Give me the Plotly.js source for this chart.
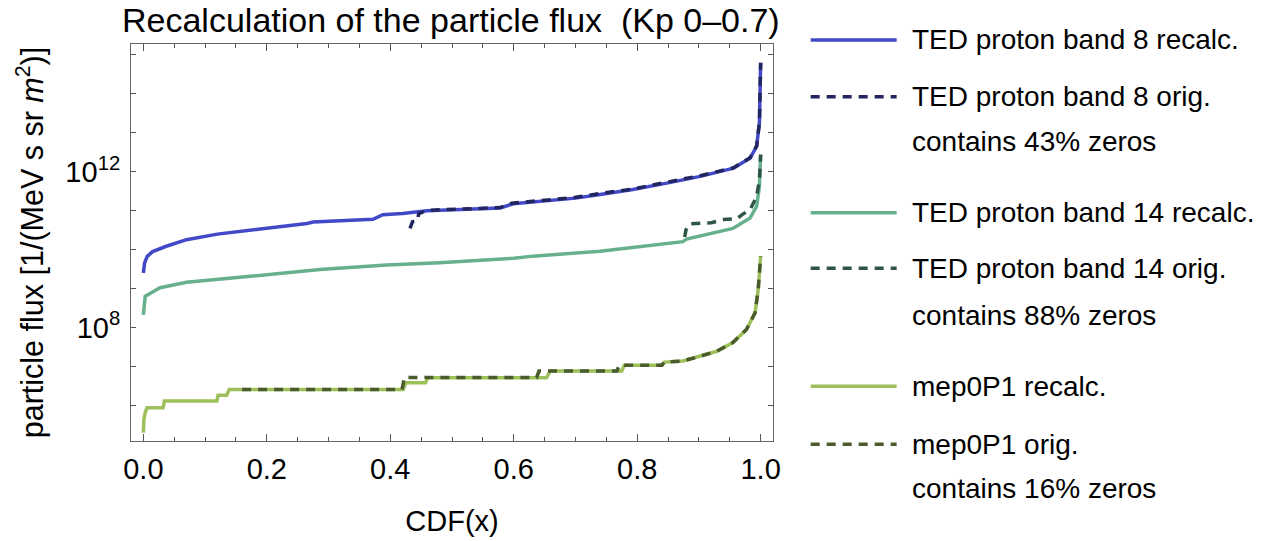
<!DOCTYPE html>
<html>
<head>
<meta charset="utf-8">
<script src="https://cdn.plot.ly/plotly-3.0.1.min.js"></script>
<style>html,body{margin:0;padding:0;background:#fff;}#chart{width:1264px;height:541px;}</style>
</head>
<body>
<div id="chart"></div>
<script>
// ---- data (x = CDF, y = particle flux) ----
const band8RecalcX = [0.000,0.002,0.006,0.015,0.036,0.070,0.120,0.178,0.230,0.265,0.275,0.372,0.388,0.420,0.459,0.578,0.599,0.648,0.700,0.740,0.793,0.848,0.902,0.956,0.983,0.9935,0.998,1.000];
const band8RecalcY = [2.5e9,4.5e9,6.6e9,8.9e9,1.2e10,1.8e10,2.5e10,3.2e10,4.0e10,4.7e10,5.1e10,6.0e10,7.9e10,8.5e10,1.0e11,1.17e11,1.5e11,1.74e11,2.1e11,2.6e11,3.5e11,5.1e11,7.6e11,1.23e12,2.24e12,4.5e12,1.8e13,6.3e14];

const band8OrigX = [0.432,0.436,0.444,0.446,0.459,0.578,0.597,0.648,0.700,0.740,0.793,0.848,0.902,0.956,0.983,0.9935,0.998,1.000];
const band8OrigY = [3.5e10,5.2e10,5.5e10,8.3e10,1.02e11,1.2e11,1.55e11,1.8e11,2.2e11,2.75e11,3.6e11,5.4e11,7.9e11,1.26e12,2.3e12,4.6e12,1.86e13,6.3e14];

const band14RecalcX = [0.000,0.003,0.027,0.070,0.178,0.286,0.394,0.480,0.600,0.631,0.740,0.874,0.880,0.955,0.983,0.9935,0.998,1.000];
const band14RecalcY = [2.1e8,6.3e8,1.05e9,1.45e9,2.1e9,3.1e9,4.0e9,4.6e9,6.0e9,6.8e9,9.1e9,1.6e10,1.86e10,3.5e10,6.5e10,1.3e11,4.2e11,2.75e12];

const band14OrigX = [0.877,0.879,0.885,0.920,0.940,0.962,0.970,0.983,0.9935,0.998,1.000];
const band14OrigY = [2.1e10,3.2e10,4.6e10,4.9e10,5.9e10,6.2e10,7.9e10,1.07e11,2.3e11,6.3e11,2.75e12];

const mepRecalcX = [0.000,0.001,0.003,0.006,0.032,0.034,0.119,0.121,0.135,0.139,0.421,0.425,0.457,0.461,0.653,0.659,0.775,0.779,0.840,0.844,0.874,0.902,0.929,0.955,0.977,0.991,0.996,1.000];
const mepRecalcY = [2.0e5,4.5e5,6.5e5,8.7e5,8.7e5,1.29e6,1.29e6,1.82e6,1.82e6,2.57e6,2.57e6,3.8e6,3.8e6,5.1e6,5.1e6,7.6e6,7.6e6,1.07e7,1.07e7,1.29e7,1.38e7,1.82e7,2.45e7,4.1e7,8.9e7,2.4e8,9.3e8,6.8e9];

const mepOrigX = [0.160,0.419,0.423,0.637,0.641,0.767,0.771,0.840,0.844,0.874,0.902,0.929,0.955,0.977,0.991,0.996,1.000];
const mepOrigY = [2.57e6,2.57e6,5.2e6,5.2e6,7.6e6,7.6e6,1.07e7,1.07e7,1.29e7,1.38e7,1.82e7,2.45e7,4.1e7,8.9e7,2.4e8,9.3e8,6.8e9];

const seriesNames = ["TED proton band 8 recalc.","TED proton band 8 orig.","TED proton band 14 recalc.","TED proton band 14 orig.","mep0P1 recalc.","mep0P1 orig."];
const zeroNotes = ["","contains 43% zeros","","contains 88% zeros","","contains 16% zeros"];
const seriesColors = ["#4249C8","#23265E","#67B08E","#2E5545","#9DC05A","#4A5B2C"];

const yTickVals = [1e8,1e12];
const yTickText = ["10<sup>8</sup>","10<sup>12</sup>"];
const yMinorTickVals = [1e6,1e7,1e9,1e10,1e11,1e13,1e14,1e15];
const xTickVals = [0,0.2,0.4,0.6,0.8,1.0];
const xTickText = ["0.0","0.2","0.4","0.6","0.8","1.0"];

// ---- layout geometry (pixels) ----
const W = 1264, H = 541;
const PL = 131, PR = 773.3, PT = 44, PB = 440.7;
const px2x = p => (p - PL) / (PR - PL);
const px2y = p => (PB - p) / (PB - PT);
const FONT = "Liberation Sans, Arial, Helvetica, sans-serif";

const dash = "9px,7px";
const traces = [
  {x: band8RecalcX, y: band8RecalcY, line:{color:seriesColors[0], width:3.5}},
  {x: band8OrigX, y: band8OrigY, line:{color:seriesColors[1], width:3.5, dash:dash}},
  {x: band14RecalcX, y: band14RecalcY, line:{color:seriesColors[2], width:3.5}},
  {x: band14OrigX, y: band14OrigY, line:{color:seriesColors[3], width:3.5, dash:dash}},
  {x: mepRecalcX, y: mepRecalcY, line:{color:seriesColors[4], width:3.5}},
  {x: mepOrigX, y: mepOrigY, line:{color:seriesColors[5], width:3.5, dash:dash}}
].map((t,i) => Object.assign({type:"scatter", mode:"lines", name:seriesNames[i], showlegend:false, hoverinfo:"skip"}, t));

// ---- hand-placed legend (keys + text) ----
const legendRows = [
  {y:40,   key:0, text:seriesNames[0]},
  {y:96.7, key:1, text:seriesNames[1]},
  {y:141.7,key:-1,text:zeroNotes[1]},
  {y:212.7,key:2, text:seriesNames[2]},
  {y:268,  key:3, text:seriesNames[3]},
  {y:315,  key:-1,text:zeroNotes[3]},
  {y:386,  key:4, text:seriesNames[4]},
  {y:444,  key:5, text:seriesNames[5]},
  {y:488,  key:-1,text:zeroNotes[5]}
];
const shapes = [], annotations = [];
legendRows.forEach(r => {
  if (r.key >= 0) {
    const dashed = r.key % 2 === 1;
    shapes.push({type:"line", xref:"paper", yref:"paper", x0:px2x(811), x1:px2x(897), y0:px2y(r.y), y1:px2y(r.y),
      line:{color:seriesColors[r.key], width:3.5, dash: dashed ? dash : "solid"}});
  }
  annotations.push({xref:"paper", yref:"paper", x:px2x(910), y:px2y(r.y), xanchor:"left", yanchor:"middle",
    text:r.text, showarrow:false, font:{family:FONT, size:28, color:"#000"}});
});

const AX_FONT = {family:FONT, size:29, color:"#000"};
const layout = {
  width: W, height: H,
  margin: {l:PL, r:W-PR, t:PT, b:H-PB, pad:0},
  paper_bgcolor:"#fff", plot_bgcolor:"#fff",
  font:{family:FONT, color:"#000"},
  title:{text:"Recalculation of the particle flux  (Kp 0\u20130.7)", font:{family:FONT, size:34, color:"#000"},
    x:px2x(451), xref:"paper", xanchor:"center", y:1-20/H, yref:"container", yanchor:"middle"},
  xaxis:{range:[-0.02,1.02], showgrid:false, zeroline:false, showline:true, linecolor:"#666", linewidth:1, mirror:"ticks",
    ticks:"inside", ticklen:7, tickcolor:"#555", tickvals:xTickVals, ticktext:xTickText,
    tickfont:AX_FONT, ticklabelstandoff:2,
    minor:{ticks:"inside", ticklen:4, tickcolor:"#555", dtick:0.05, tick0:0, showgrid:false},
    title:{text:"CDF(x)", font:AX_FONT, standoff:26}},
  yaxis:{type:"log", range:[5.085,15.28], showgrid:false, zeroline:false, showline:true, linecolor:"#666", linewidth:1, mirror:"ticks",
    ticks:"inside", ticklen:5, tickcolor:"#555", tickvals:yTickVals, ticktext:yTickText,
    tickfont:AX_FONT, ticklabelstandoff:4,
    minor:{ticks:"inside", ticklen:5, tickcolor:"#555", tickmode:"array", tickvals:yMinorTickVals, showgrid:false},
    title:{text:"particle flux [1/(MeV s sr <i>m</i><sup>2</sup>)]", font:{family:FONT, size:30.5, color:"#000"}, standoff:12}},
  shapes: shapes,
  annotations: annotations
};

Plotly.newPlot("chart", traces, layout, {staticPlot:true, displayModeBar:false});
</script>
</body>
</html>
